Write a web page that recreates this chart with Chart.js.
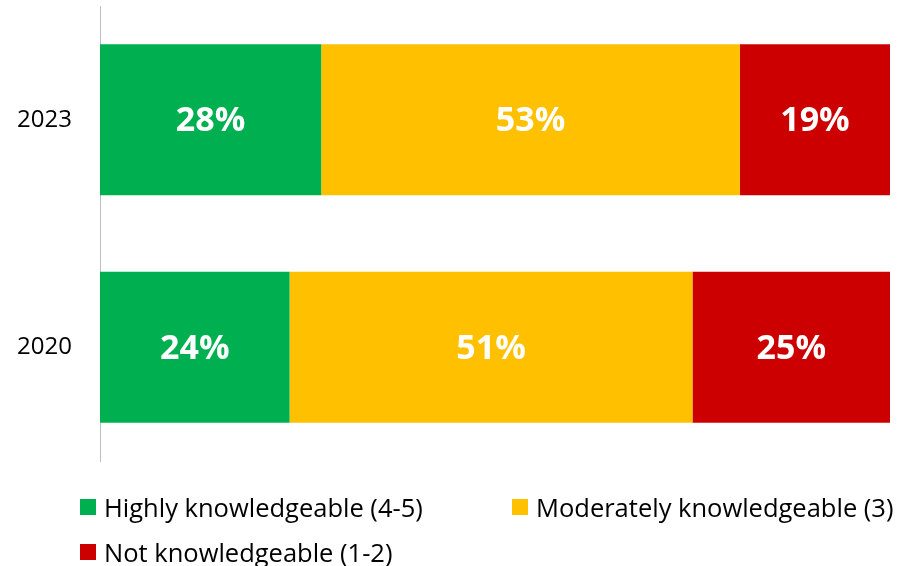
<!DOCTYPE html>
<html>
<head>
<meta charset="utf-8">
<script src="https://cdn.jsdelivr.net/npm/chart.js@4/dist/chart.umd.min.js"></script>
<style>
  body { margin: 0; background: #fff; }
  #wrap { position: relative; width: 899px; height: 566px; }
  #legend {
    position: absolute; left: 80px; top: 484px;
    display: grid; grid-template-columns: 432px auto; grid-auto-rows: 45px;
    font-family: "Open Sans", sans-serif; font-size: 25.5px; color: #000;
  }
  .item { display: flex; align-items: center; white-space: nowrap; }
  .box { width: 16px; height: 16px; margin-right: 8px; flex: none; }
</style>
</head>
<body>
<div id="wrap">
  <canvas id="chart" width="899" height="566"></canvas>
  <div id="legend"></div>
</div>
<script>
const years = ['2023', '2020']
const seriesNames = ['Highly knowledgeable (4-5)', 'Moderately knowledgeable (3)', 'Not knowledgeable (1-2)']
const highly = [28, 24]
const moderately = [53, 51]
const notKnowledgeable = [19, 25]
const colors = ['#00B050', '#FFC000', '#CC0000']

const values = [highly, moderately, notKnowledgeable]

// white percent labels centred in each segment
const segmentLabels = {
  id: 'segmentLabels',
  afterDatasetsDraw(chart) {
    const ctx = chart.ctx
    ctx.save()
    ctx.fillStyle = '#fff'
    ctx.font = 'bold 34px "Open Sans"'
    ctx.textAlign = 'center'
    ctx.textBaseline = 'middle'
    chart.data.datasets.forEach((ds, i) => {
      chart.getDatasetMeta(i).data.forEach((bar, j) => {
        const { x, y } = bar.getCenterPoint()
        ctx.fillText(ds.data[j] + '%', x, y + 2)
      })
    })
    ctx.restore()
  }
}

const chart = new Chart(document.getElementById('chart'), {
  type: 'bar',
  data: {
    labels: years,
    datasets: values.map((data, i) => ({
      label: seriesNames[i],
      data,
      backgroundColor: colors[i],
      borderWidth: 0,
      categoryPercentage: 1,
      barPercentage: 0.664
    }))
  },
  options: {
    indexAxis: 'y',
    responsive: false,
    animation: false,
    devicePixelRatio: 1,
    layout: { padding: { top: 6, right: 9, bottom: 105, left: 17 } },
    plugins: { legend: { display: false }, tooltip: { enabled: false } },
    scales: {
      x: { stacked: true, min: 0, max: 100, display: false },
      y: {
        stacked: true,
        afterFit(scale) { scale.width = 83 },
        grid: { display: false },
        border: { display: true, color: '#BFBFBF', width: 1 },
        ticks: {
          padding: 0,
          crossAlign: 'far',
          color: '#000',
          font: { family: 'Open Sans', size: 24, lineHeight: 0.4 }
        }
      }
    }
  },
  plugins: [segmentLabels]
})

// legend laid out like the original (two columns)
const legend = document.getElementById('legend')
chart.data.datasets.forEach(ds => {
  const item = document.createElement('div')
  item.className = 'item'
  item.innerHTML = '<span class="box" style="background:' + ds.backgroundColor + '"></span>' + ds.label
  legend.appendChild(item)
})
</script>
</body>
</html>
